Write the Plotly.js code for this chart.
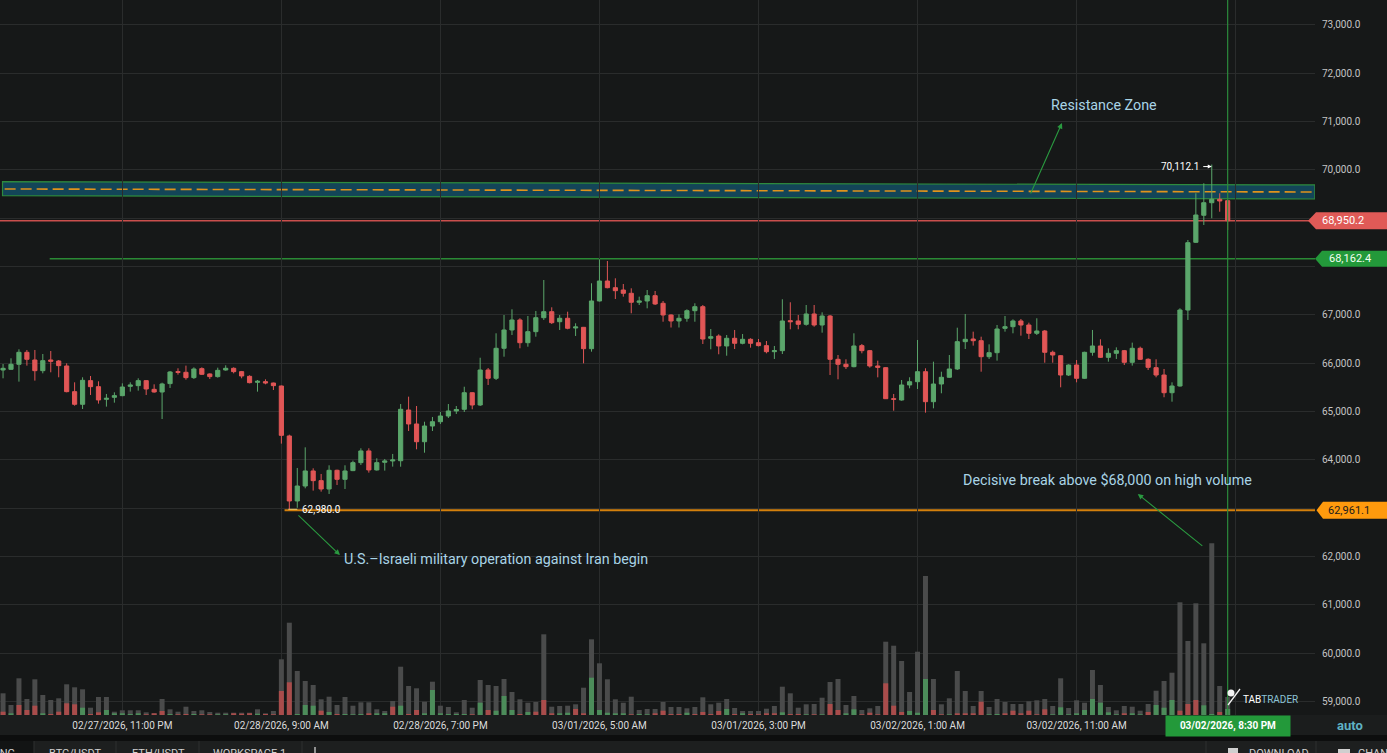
<!DOCTYPE html>
<html><head><meta charset="utf-8">
<script src="https://cdn.plot.ly/plotly-3.0.1.min.js"></script>
<style>html,body{margin:0;padding:0;background:#161818;overflow:hidden}#chart{width:1387px;height:753px}</style>
</head><body><div id="chart"></div><script>
// ---------- data (30-minute BTC/USDT candles) ----------
const START_TIME = '2026-02-27T15:30:00Z';
const CANDLE_MINUTES = 30;

const open = [65862,65876,65980,66228,66069,65848,66069,66048,65945,65414,
65152,65642,65517,65255,65297,65331,65524,65538,65642,65462,
65407,65580,65828,65814,65704,65890,65780,65725,65862,65897,
65828,65731,65607,65621,65593,65531,64497,63152,63462,63773,
63573,63400,63787,63600,63780,63945,64187,63794,63952,63980,
63985,65034,64745,64378,64703,64792,64910,65014,65049,65392,
65138,65862,65690,66311,66690,66897,66427,66655,66944,67068,
66861,66932,66731,66745,66303,67290,67703,67565,67517,67449,
67263,67290,67400,67242,67000,66876,66932,67089,67172,66518,
66565,66359,66518,66414,66497,66427,66366,66241,66262,66883,
66876,66807,67021,66793,66979,66083,65980,65931,66366,66262,
65945,65910,65268,65241,65552,65620,65827,65206,65572,65711,
65883,66448,66503,66468,66137,66220,66724,66758,66876,66793,
66621,66669,66228,66158,65758,65965,65690,66228,66359,66124,
66207,66262,66021,66311,66083,65910,65758,65392,65531,67103,
68504,69063,69323,69394,69365];

const high = [65986,66104,66290,66276,66276,66193,66255,66069,66000,65607,
65711,65738,65628,65366,65400,65586,65607,65690,65648,65566,
65600,65842,65897,65952,65917,65917,65793,65910,65959,65917,
65842,65752,65655,65669,65600,65540,64524,63835,64262,63828,
63711,63890,63800,63890,63987,64242,64242,64035,64021,64125,
65158,65310,65117,64792,64890,64993,65158,65117,65516,65400,
66116,65903,66621,67000,67118,66932,66979,67083,67724,67159,
67000,67068,66828,66752,67656,68152,68117,67759,67641,67552,
67379,67517,67497,67290,67014,67014,67118,67242,67207,66710,
66600,66586,66690,66607,66518,66503,66462,66359,67325,67263,
67000,67207,67207,67055,67000,66172,66083,66621,66400,66276,
66055,65917,65366,65655,65711,66483,65897,66034,65827,66172,
66737,67021,66655,66551,66393,66793,66979,66910,66917,66841,
66932,66690,66262,66170,65979,66069,66240,66690,66497,66311,
66331,66276,66428,66345,66104,66083,65883,65607,67139,68552,
69518,69725,70112.1,69518,69365];

const low = [65690,65862,65621,65952,65642,65793,65814,65711,65400,65124,
65055,65345,65166,65104,65186,65320,65414,65435,65345,65393,
64848,65490,65766,65662,65676,65759,65676,65704,65848,65793,
65690,65586,65414,65566,65448,64338,62980,63010,63414,63366,
63345,63297,63483,63400,63770,63897,63738,63780,63780,63863,
63861,64600,64221,64151,64600,64745,64869,64952,64993,65049,
65117,65552,65655,66137,66586,66311,66344,66551,66897,66814,
66690,66704,66566,66000,66241,67280,67552,67331,67379,67035,
67207,67138,67207,66861,66741,66741,66861,66861,66400,66290,
66187,66158,66296,66393,66324,66350,66207,66090,66193,66704,
66704,66779,66758,66634,65758,65669,65883,65917,66207,65910,
65710,65262,65020,65227,65483,65469,64979,65069,65380,65700,
65862,66296,66366,65827,66090,66055,66655,66621,66572,66503,
66586,66013,66013,65504,65738,65607,65680,66158,66110,66034,
66090,65965,65952,66069,65862,65711,65298,65206,65517,66897,
68490,68862,69001,69137,68759];

const close = [65897,65980,66228,66083,65848,66055,66042,65952,65414,65152,
65648,65517,65242,65276,65331,65510,65552,65642,65469,65407,
65573,65821,65814,65704,65883,65773,65725,65855,65897,65828,
65738,65600,65628,65593,65538,64510,63152,63462,63773,63573,
63400,63787,63600,63773,63945,64187,63794,63945,63980,64000,
65049,64745,64378,64703,64792,64910,65014,65045,65392,65138,
65862,65690,66311,66690,66897,66427,66655,66944,67068,66841,
66932,66725,66752,66303,67290,67703,67565,67503,67449,67263,
67290,67400,67228,67000,66876,66932,67089,67172,66503,66551,
66359,66518,66414,66497,66414,66366,66241,66262,66876,66861,
66807,67021,66793,66979,66083,65980,65931,66359,66262,65945,
65917,65268,65256,65552,65620,65827,65206,65572,65711,65883,
66448,66497,66468,66137,66220,66710,66758,66876,66793,66621,
66669,66228,66172,65758,65965,65690,66228,66359,66124,66207,
66262,66021,66311,66083,65917,65758,65392,65531,67103,68496,
69069,69323,69394,69359,68950.2];

// relative volume (total) and its coloured part
const volume = [21.7,10,36.7,16,35.7,20,15,16.7,30.7,27.7,
25.7,7.3,18,18,3.3,4.7,4.7,4.7,2.7,1.7,
16,5.7,3.3,8.3,4,4.7,3,2.3,2.3,2.3,
2.3,2.3,5.7,1.7,4,55.7,92.3,44,34,30,
15.7,18.3,10,18,9.3,12.7,12.7,5.7,4,14,
48.3,29,26.7,13.3,33.3,9.3,8,2.7,15,7.3,
35,30,29,36,23,15.7,12.3,13,80.7,8.3,
9,9.3,10.7,27.3,75.7,51.7,35.7,15.7,12.3,18.3,
5,6,6,13,8,8,6.7,8,17.7,10.7,
12.3,16,7,4,4,4,6.3,9,28.3,21.7,
7.3,10.7,11,17.3,33,36,10,19,5,6.7,
9,73.3,69.3,54,23,63.3,139,36,10.7,16.7,
44,24,9,24,8,16,13,11,11,13.7,
14.7,16,9,36.7,7,14.7,12.3,45,30,8,
4.7,9,8.3,4.3,11,24.3,34,42.3,112.7,74,
111.7,71.7,171.7,29,18];

const volumePart = [3.3,1.7,10,5,9.3,1.7,1,3.3,11.7,10.7,
7.3,1,2.7,5,1.7,1.7,1,1.7,0.7,1.7,
4,1,0.7,1,1,0.7,0.7,0.7,0.7,1.7,
1.3,1.7,1.3,1,0.7,24,32.7,1,10,9.3,
4.3,3,1,1,0.7,1,1.7,1.7,1.7,8.3,
9.3,1,5,1.7,25,1.7,1,1,1,0.7,
12.3,5,4.3,19,5,1,3,3.3,15,1.7,
1.7,2.3,6,1.7,37.3,5,2.3,1.7,1.7,0.7,
1,0.7,1.7,4.3,1,1,2.3,1,3,1,
4,6,1,1.7,1,0.7,1.7,1.7,2.7,1,
1,0.7,0.7,0.7,11,5,1.7,5.7,0.7,2.3,
0.7,31.7,9.3,3,4,2.3,36,5,0.7,0.7,
1.7,1.7,1.7,13.3,0.7,1,1.7,4.3,1.7,4.3,
0.7,5.7,0.7,7.7,0.7,1.7,5,16,12.3,2.7,
0.7,1.7,1.7,0.7,3,10,7.3,15,4.3,11,
15,9.7,1,3,6];

const volumeSide = ('rgrrrgrrrr' + 'grrgggggrr' + 'rgrrgrrggr' + 'rrgrrrrggg' + 'rgrgggrggr' +
  'grrggggggr' + 'grgggrgrrr' + 'ggrrgggggr' + 'ggrrrrgrrr' + 'rgrgrrrrgr' +
  'rgrgrrggrr' + 'rrrrgggrrg' + 'rrrrggrrrr' + 'rrgggggggg' + 'grggrgggrr' + 'rggrg').split('');

const xTickVals = ['2026-02-27 23:00','2026-02-28 09:00','2026-02-28 19:00','2026-03-01 05:00',
  '2026-03-01 15:00','2026-03-02 01:00','2026-03-02 11:00','2026-03-02 21:00'];
const xTickText = ['02/27/2026, 11:00 PM','02/28/2026, 9:00 AM','02/28/2026, 7:00 PM','03/01/2026, 5:00 AM',
  '03/01/2026, 3:00 PM','03/02/2026, 1:00 AM','03/02/2026, 11:00 AM',''];
// labels hidden behind the price tags are left blank
const yTickVals = [59000,60000,61000,62000,63000,64000,65000,66000,67000,68000,69000,70000,71000,72000,73000];
const yTickText = ['59,000.0','60,000.0','61,000.0','62,000.0','','64,000.0','65,000.0','66,000.0','67,000.0','','','70,000.0','71,000.0','72,000.0','73,000.0'];

const LAST_PRICE = 68950.2;
const SUPPORT_LEVEL = 68162.4;
const LOW_LEVEL = 62961.1;
const SESSION_LOW = 62980.0;
const SESSION_HIGH = 70112.1;
const CURSOR_TIME = '2026-03-02 20:30';
const LOW_CANDLE_TIME = '2026-02-28 09:30';
const HIGH_CANDLE_TIME = '2026-03-02 19:30';

// ---------- build ----------
const t0 = Date.parse(START_TIME);
const times = open.map((_, i) => new Date(t0 + i * CANDLE_MINUTES * 60000).toISOString().slice(0, 16).replace('T', ' '));

const X_RANGE = ['2026-02-27 15:18:30', '2026-03-03 01:59:30'];
const Y_RANGE = [58724, 73517];
const BAR_W = 1130000;
const FONT = 'Roboto, "Open Sans", sans-serif';
const GREEN = '#5ba66b', RED = '#e15656';

const traces = [
  { type: 'candlestick', x: times, open, high, low, close, xaxis: 'x', yaxis: 'y',
    increasing: { line: { color: GREEN, width: 1 }, fillcolor: GREEN },
    decreasing: { line: { color: RED, width: 1 }, fillcolor: RED },
    whiskerwidth: 0, hoverinfo: 'skip', showlegend: false },
  { type: 'bar', x: times, y: volume, xaxis: 'x', yaxis: 'y2', width: BAR_W,
    marker: { color: '#4a4b4b', line: { width: 0 } }, hoverinfo: 'skip', showlegend: false },
  { type: 'bar', x: times, y: volumePart, xaxis: 'x', yaxis: 'y2', width: BAR_W,
    marker: { color: volumeSide.map(s => s === 'r' ? '#a94c4b' : '#4c8c5a'), line: { width: 0 } },
    hoverinfo: 'skip', showlegend: false }
];

const PW = 1315, PH = 715;
const px = x => x / PW, py = y => 1 - y / PH;

const tag = (anchorY, path, fill) => ({ type: 'path', xref: 'paper', yref: 'y', xsizemode: 'pixel', ysizemode: 'pixel',
  xanchor: 1, yanchor: anchorY, path, fillcolor: fill, line: { width: 0 }, layer: 'above' });

const shapes = [
  // resistance zone
  { type: 'path', xref: 'x', yref: 'y', layer: 'below',
    path: 'M2026-02-27_15:28,69758 L2026-03-03_01:59,69690 L2026-03-03_01:59,69400 L2026-02-27_15:28,69468 Z',
    fillcolor: '#134558', line: { color: '#2e8b3e', width: 1.2 } },
  { type: 'line', xref: 'x', yref: 'y', layer: 'below', x0: '2026-02-27 15:36', y0: 69607, x1: '2026-03-03 01:50', y1: 69545,
    line: { color: '#e0931c', width: 1.6, dash: '11px,5px' } },
  // level lines
  { type: 'line', xref: 'paper', yref: 'y', layer: 'below', x0: 0, x1: 1, y0: LAST_PRICE, y1: LAST_PRICE, line: { color: '#c94f4d', width: 1.3 } },
  { type: 'line', xref: 'x', yref: 'y', layer: 'below', x0: '2026-02-27 18:26', x1: X_RANGE[1], y0: SUPPORT_LEVEL, y1: SUPPORT_LEVEL, line: { color: '#2a8a35', width: 1.6 } },
  { type: 'line', xref: 'x', yref: 'y', layer: 'below', x0: '2026-02-28 09:12', x1: X_RANGE[1], y0: LOW_LEVEL, y1: LOW_LEVEL, line: { color: '#d4800c', width: 2 } },
  // low marker
  { type: 'line', xref: 'x', yref: 'y', xsizemode: 'pixel', xanchor: LOW_CANDLE_TIME, x0: -1, x1: 8, y0: SESSION_LOW, y1: SESSION_LOW, line: { color: '#f0d070', width: 1 }, layer: 'above' },
  // crosshair
  { type: 'line', xref: 'x', yref: 'paper', x0: CURSOR_TIME, x1: CURSOR_TIME, y0: 0, y1: 1, line: { color: '#2b8a3c', width: 1.2 }, layer: 'above' },
  // price tags
  tag(LAST_PRICE, 'M -7 0 L 1 -8.5 L 72 -8.5 L 72 8.5 L 1 8.5 Z', '#e05a57'),
  tag(SUPPORT_LEVEL, 'M 0 0 L 7 -8 L 72 -8 L 72 8 L 7 8 Z', '#23993a'),
  tag(LOW_LEVEL, 'M 1.5 0 L 8 -8.5 L 72 -8.5 L 72 8.5 L 8 8.5 Z', '#ff9a0d'),
  // bottom bands
  { type: 'rect', xref: 'paper', yref: 'paper', x0: 0, x1: px(1387), y0: py(735), y1: py(715), fillcolor: '#1b1d1d', line: { width: 0 }, layer: 'below' },
  { type: 'rect', xref: 'paper', yref: 'paper', x0: 0, x1: px(1387), y0: py(741), y1: py(735), fillcolor: '#0d0e0e', line: { width: 0 }, layer: 'below' },
  { type: 'rect', xref: 'paper', yref: 'paper', x0: 0, x1: px(1387), y0: py(760), y1: py(741), fillcolor: '#1d1f1f', line: { width: 0 }, layer: 'below' },
  { type: 'rect', xref: 'paper', yref: 'paper', x0: 0, x1: px(34), y0: py(760), y1: py(741), fillcolor: '#121414', line: { width: 0 }, layer: 'below' },
  // logo
  { type: 'circle', xref: 'paper', yref: 'paper', x0: px(1227.5), x1: px(1234.5), y0: py(696.5), y1: py(689.5), fillcolor: '#f2f2f2', line: { width: 0 }, layer: 'above' },
  { type: 'line', xref: 'paper', yref: 'paper', x0: px(1228), y0: py(705), x1: px(1240), y1: py(689), line: { color: '#f2f2f2', width: 1.3 }, layer: 'above' }
];
[34, 116, 199, 302, 1206, 1316].forEach(x => shapes.push({ type: 'line', xref: 'paper', yref: 'paper', x0: px(x), x1: px(x), y0: py(760), y1: py(741), line: { color: '#2e3030', width: 1 } }));
shapes.push({ type: 'line', xref: 'paper', yref: 'paper', x0: px(315), x1: px(315), y0: py(760), y1: py(747), line: { color: '#e0e0e0', width: 1.2 } });
// tiny tab icons (cut off)
shapes.push({ type: 'rect', xref: 'paper', yref: 'paper', x0: px(1228), x1: px(1238), y0: py(760), y1: py(748), fillcolor: '#cfcfcf', line: { width: 0 } });
shapes.push({ type: 'rect', xref: 'paper', yref: 'paper', x0: px(1338), x1: px(1350), y0: py(760), y1: py(749), fillcolor: '#cfcfcf', line: { width: 0 } });

const NOTE = '#a9d4e6';
const ARROW = '#2a9a40';
const NOTE_FONT = { family: FONT, size: 14.3, color: NOTE };
const TAB_FONT = { family: FONT, size: 11, color: '#d0d0d0' };
const tab = (x, text, anchor) => ({ x: px(x), y: py(753.5), xref: 'paper', yref: 'paper', xanchor: anchor || 'center', yanchor: 'middle', text, showarrow: false, font: TAB_FONT });

const annotations = [
  { x: '2026-03-02 12:43', y: 71345, xref: 'x', yref: 'y', text: 'Resistance Zone', showarrow: false, font: NOTE_FONT },
  { x: '2026-03-02 10:05', y: 70972, xref: 'x', yref: 'y', text: '', showarrow: true, ax: -32, ay: 72, arrowhead: 2, arrowsize: 1, arrowwidth: 1.1, arrowcolor: ARROW, standoff: 0, startstandoff: 0 },
  { x: '2026-02-28 22:28', y: 61952, xref: 'x', yref: 'y', text: 'U.S.–Israeli military operation against Iran begin', showarrow: false, font: NOTE_FONT },
  { x: '2026-02-28 12:41', y: 62034, xref: 'x', yref: 'y', text: '', showarrow: true, ax: -43, ay: -41, arrowhead: 2, arrowsize: 1, arrowwidth: 1.1, arrowcolor: ARROW, standoff: 0, startstandoff: 0 },
  { x: '2026-03-02 12:57', y: 63586, xref: 'x', yref: 'y', text: 'Decisive break above $68,000 on high volume', showarrow: false, font: NOTE_FONT },
  { x: '2026-03-02 14:51', y: 63296, xref: 'x', yref: 'y', text: '', showarrow: true, ax: 66, ay: 53, arrowhead: 2, arrowsize: 1, arrowwidth: 1.1, arrowcolor: ARROW, standoff: 0, startstandoff: 0 },
  // low / high labels
  { x: LOW_CANDLE_TIME, y: SESSION_LOW, xref: 'x', yref: 'y', xanchor: 'left', xshift: 11, text: '62,980.0', showarrow: false, font: { family: FONT, size: 10, color: '#ffffff' } },
  { x: HIGH_CANDLE_TIME, y: SESSION_HIGH, xref: 'x', yref: 'y', xanchor: 'right', xshift: -11, yshift: -2, text: '70,112.1', showarrow: false, font: { family: FONT, size: 10, color: '#ffffff' } },
  { x: HIGH_CANDLE_TIME, y: SESSION_HIGH, xref: 'x', yref: 'y', yshift: -2, text: '', showarrow: true, ax: -10, ay: 0, arrowhead: 2, arrowsize: 0.8, arrowwidth: 1, arrowcolor: '#ffffff', standoff: 0 },
  // price tags text
  { x: px(1320), y: LAST_PRICE, xref: 'paper', yref: 'y', xanchor: 'left', yanchor: 'middle', text: '68,950.2', showarrow: false, font: { family: FONT, size: 11, color: '#ffffff' } },
  { x: px(1327), y: SUPPORT_LEVEL, xref: 'paper', yref: 'y', xanchor: 'left', yanchor: 'middle', text: '68,162.4', showarrow: false, font: { family: FONT, size: 11, color: '#f2fff2' } },
  { x: px(1326), y: LOW_LEVEL, xref: 'paper', yref: 'y', xanchor: 'left', yanchor: 'middle', text: '62,961.1', showarrow: false, font: { family: FONT, size: 11, color: '#1c1c1c' } },
  // cursor date label
  { x: CURSOR_TIME, y: 0, xref: 'x', yref: 'paper', xanchor: 'center', yanchor: 'top', width: 124, height: 20, borderpad: 0, bgcolor: '#23993a',
    text: '<b>03/02/2026, 8:30 PM</b>', showarrow: false, font: { family: FONT, size: 10, color: '#ffffff' } },
  { x: px(1350), y: py(725), xref: 'paper', yref: 'paper', xanchor: 'center', yanchor: 'middle', text: '<b>auto</b>', showarrow: false, font: { family: FONT, size: 13, color: '#5fb2c4' } },
  { x: px(1241), y: py(699), xref: 'paper', yref: 'paper', xanchor: 'left', yanchor: 'middle', showarrow: false,
    text: 'TAB<span style="color:#8cc3d6">TRADER</span>', font: { family: FONT, size: 10, color: '#ffffff' } },
  // bottom tabs (cut off by the window)
  tab(17, 'TRADING', 'right'),
  tab(75, 'BTC/USDT'),
  tab(158, 'ETH/USDT'),
  tab(250, 'WORKSPACE 1'),
  tab(1247, 'DOWNLOAD', 'left'),
  tab(1356, 'CHANGE', 'left')
];

const layout = {
  width: 1387, height: 753,
  margin: { l: 0, r: 72, t: 0, b: 38, pad: 0 },
  paper_bgcolor: '#161818', plot_bgcolor: '#161818',
  showlegend: false, barmode: 'overlay', boxgap: 0.25, hovermode: false,
  font: { family: FONT, color: '#d0d0d0' },
  xaxis: { type: 'date', range: X_RANGE, rangeslider: { visible: false }, tickmode: 'array', tickvals: xTickVals, ticktext: xTickText,
    showgrid: true, gridcolor: '#2a2c2c', gridwidth: 1, zeroline: false, showline: false, ticks: '', ticklabelstandoff: 3,
    tickfont: { family: FONT, size: 10, color: '#dcdcdc' }, fixedrange: true },
  yaxis: { side: 'right', range: Y_RANGE, tickmode: 'array', tickvals: yTickVals, ticktext: yTickText, showgrid: true, gridcolor: '#2a2c2c', gridwidth: 1,
    zeroline: false, showline: false, ticks: '', ticklabelstandoff: 6, tickfont: { family: FONT, size: 10, color: '#c4c4c4' }, fixedrange: true },
  yaxis2: { overlaying: 'y', range: [0, 715], visible: false, showgrid: false, fixedrange: true },
  shapes, annotations
};

Plotly.newPlot('chart', traces, layout, { displayModeBar: false, staticPlot: true });
</script></body></html>
